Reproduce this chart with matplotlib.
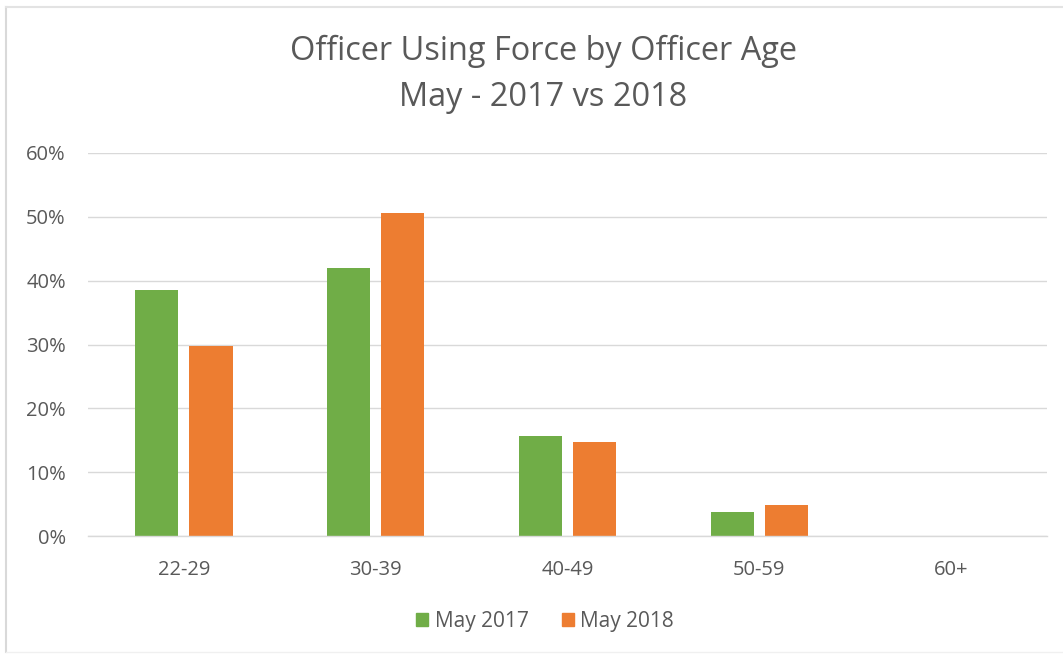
import matplotlib
matplotlib.use("Agg")
import matplotlib.pyplot as plt
from matplotlib.lines import Line2D
from matplotlib.ticker import FuncFormatter
import numpy as np

plt.rcParams['font.family'] = ['Open Sans', 'DejaVu Sans']

categories = ["22-29", "30-39", "40-49", "50-59", "60+"]
may_2017 = [0.385, 0.420, 0.156, 0.038, 0.0]
may_2018 = [0.297, 0.506, 0.148, 0.048, 0.0]
series_labels = ["May 2017", "May 2018"]
colors = ["#70ad47", "#ed7d31"]

W, H = 1063, 656
fig = plt.figure(figsize=(W / 100, H / 100), dpi=100)
fig.patch.set_facecolor("white")

ax = fig.add_axes([88 / W, 1 - 536 / H, (1047 - 88) / W, (536 - 153) / H])

x = np.arange(len(categories))
bw = 0.225
gap = 0.057
off = (bw + gap) / 2
ax.bar(x - off, may_2017, width=bw, color=colors[0], label=series_labels[0], zorder=3)
ax.bar(x + off, may_2018, width=bw, color=colors[1], label=series_labels[1], zorder=3)

ax.set_xlim(-0.5, len(categories) - 0.5)
ax.set_ylim(0, 0.6)
ax.set_yticks(np.arange(0, 0.61, 0.1))
ax.yaxis.set_major_formatter(FuncFormatter(lambda v, p: f"{round(v * 100):d}%"))
ax.set_xticks(x)
ax.set_xticklabels(categories)

ax.grid(axis="y", color="#d9d9d9", linewidth=1, zorder=0)
for s in ["top", "right", "left"]:
    ax.spines[s].set_visible(False)
ax.spines["bottom"].set_color("#d9d9d9")
ax.spines["bottom"].set_linewidth(1)
ax.spines["bottom"].set_zorder(4)
ax.tick_params(axis="both", length=0, colors="#595959", labelsize=14.5)
ax.tick_params(axis="y", pad=16)
ax.tick_params(axis="x", pad=17)

fig.text(543 / W, 1 - 51 / H, "Officer Using Force by Officer Age", ha="center", va="center",
         fontsize=23.4, color="#595959")
fig.text(543 / W, 1 - 97 / H, "May - 2017 vs 2018", ha="center", va="center",
         fontsize=23.4, color="#595959")

handles = [plt.Rectangle((0, 0), 1, 1, color=c) for c in colors]
fig.legend(handles, series_labels, loc="center", bbox_to_anchor=(545 / W, 1 - 621 / H),
           ncol=2, frameon=False, fontsize=15, handlelength=0.6, handleheight=0.6,
           handletextpad=0.3, columnspacing=1.6, labelcolor="#595959")

# light chart-area border
fig.add_artist(Line2D([6 / W, 6 / W], [1 - 7 / H, 1 - 652 / H], color="#d9d9d9", lw=1.5))
fig.add_artist(Line2D([6 / W, 1.0], [1 - 7 / H, 1 - 7 / H], color="#e3e3e3", lw=1.5))
fig.add_artist(Line2D([6 / W, 1.0], [1 - 652 / H, 1 - 652 / H], color="#f0f0f0", lw=1))

fig.savefig("out.png", dpi=100)
